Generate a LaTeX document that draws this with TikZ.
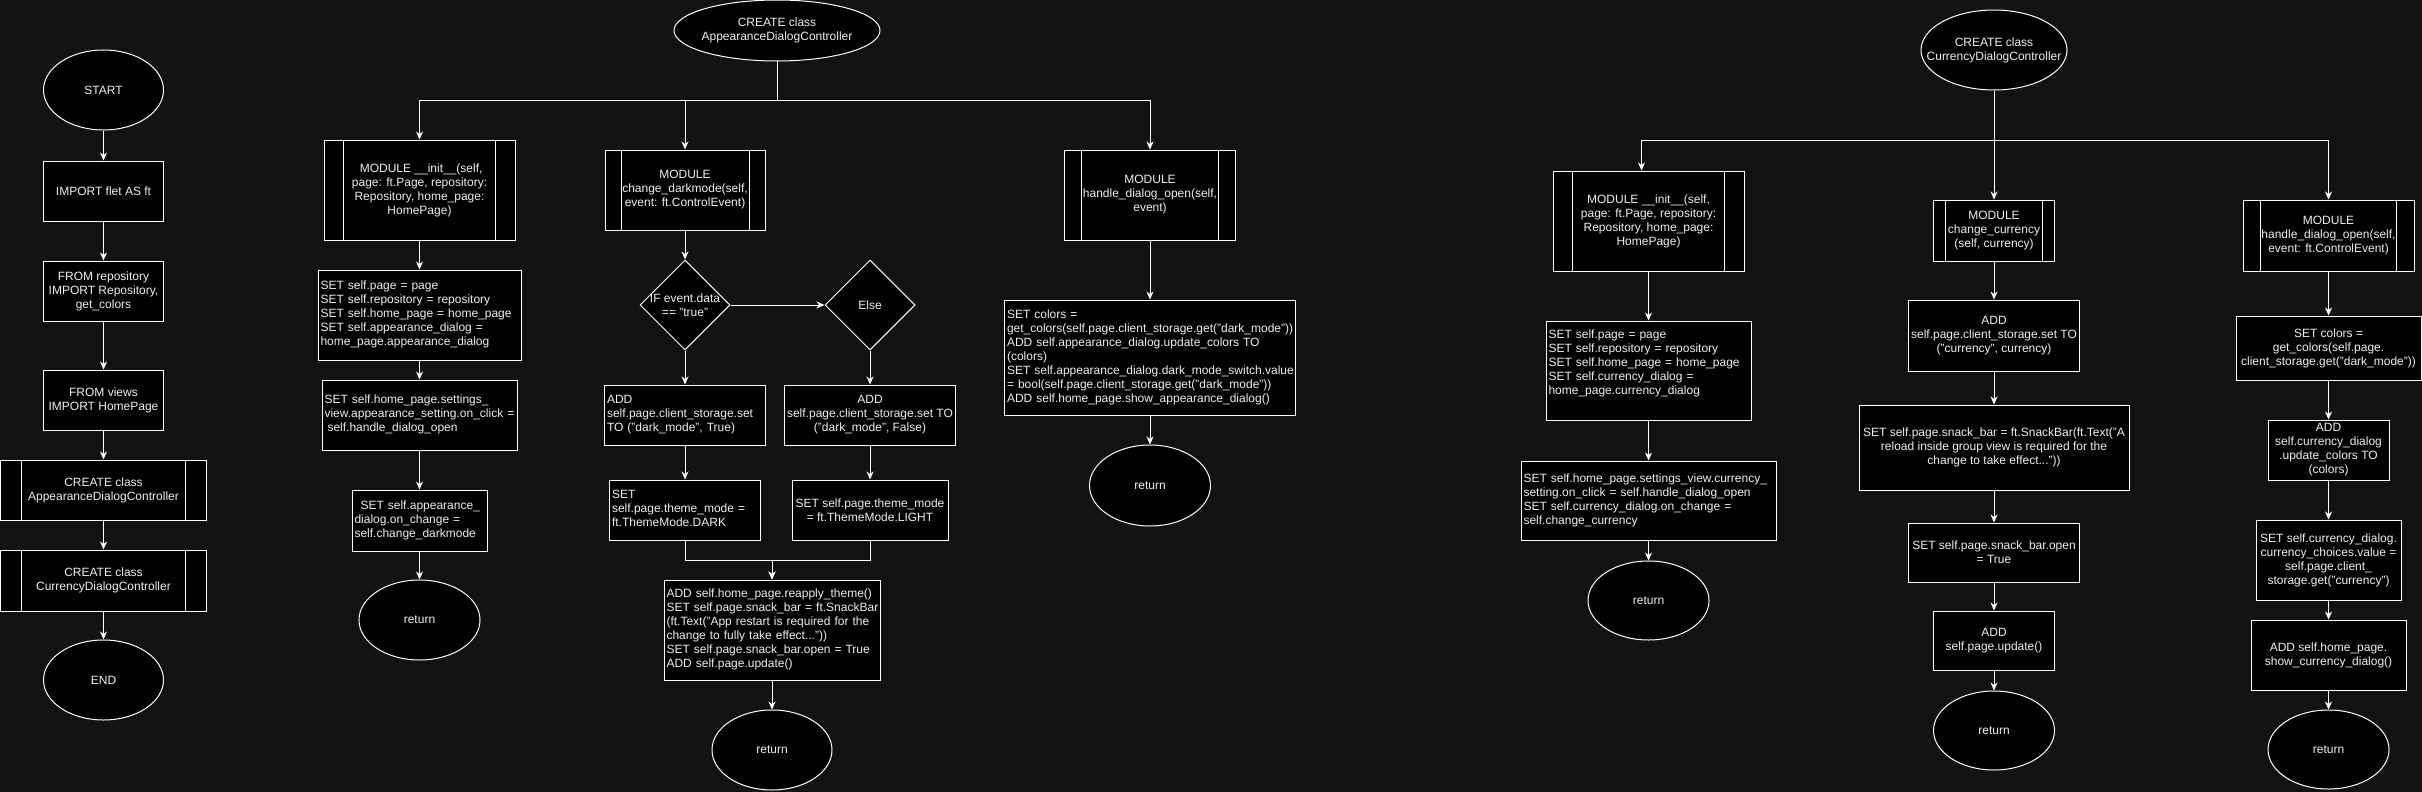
\documentclass[tikz,border=0pt]{standalone}
\usepackage{fontspec}
\setmainfont{Liberation Sans}
\usetikzlibrary{shapes.geometric,arrows.meta,calc}
\definecolor{bg}{RGB}{18,18,18}
\definecolor{txt}{RGB}{240,240,240}
\newcommand\fnt{\fontsize{12}{14}\selectfont}
\newcommand\LL[1]{\begin{tabular}{@{}l@{}}#1\end{tabular}}
\begin{document}
\begin{tikzpicture}[x=1pt,y=-1pt,
 nbase/.style={draw=white, fill=black, text=txt, font=\fnt, line width=1pt},
 lbox/.style 2 args={nbase, rectangle, inner xsep=2.5pt, inner ysep=0pt, text width=#1, minimum height=#2, align=left},
 cbox/.style 2 args={nbase, rectangle, inner sep=0pt, minimum width=#1, minimum height=#2, align=center},
 procbox/.style 2 args={cbox={#1}{#2}, path picture={
   \draw[white, line width=1pt]
   ($(path picture bounding box.north west)!0.1!(path picture bounding box.north east)$) --
   ($(path picture bounding box.south west)!0.1!(path picture bounding box.south east)$)
   ($(path picture bounding box.north west)!0.9!(path picture bounding box.north east)$) --
   ($(path picture bounding box.south west)!0.9!(path picture bounding box.south east)$);}},
 termbox/.style 2 args={nbase, ellipse, inner xsep=-25pt, inner ysep=-6pt, minimum width=#1, minimum height=#2, align=center},
 decbox/.style={nbase, diamond, inner sep=0pt, minimum width=90pt, minimum height=90pt},
 lbltxt/.style={text=txt, font=\fnt, align=center, inner sep=0pt},
 arrw/.style={draw=white, line width=1pt, -{Stealth[length=8pt,width=7pt,inset=2.5pt]}}
]
\fill[bg] (0,0) rectangle (2422,792);
\useasboundingbox (0,0) rectangle (2422,792);

% ---------- main program ----------
\node[termbox={120pt}{80pt}] (start) at (103.5,90) {START};
\node[cbox={120pt}{60pt}] (imp) at (103.5,191) {IMPORT flet AS ft};
\node[cbox={120pt}{60pt}] (frrep) at (103.5,291) {FROM repository\\IMPORT Repository,\\get\_colors};
\node[cbox={120pt}{60pt}] (frviews) at (103.5,400) {FROM views\\IMPORT HomePage};
\node[procbox={206pt}{60pt}] (crapp) at (103.5,490) {CREATE class\\AppearanceDialogController};
\node[procbox={206pt}{61pt}] (crcur) at (103.5,580.5) {CREATE class\\CurrencyDialogController};
\node[termbox={120pt}{80pt}] (endn) at (103.5,680) {END};

% ---------- AppearanceDialogController ----------
\node[termbox={206pt}{61pt}] (appc) at (777,30.5) {CREATE class\\AppearanceDialogController};
\coordinate (abr) at (777,100);

\node[procbox={191pt}{100pt}] (ainit) at (419.5,190) {\ MODULE \_\_init\_\_(self,\\page: ft.Page, repository:\\Repository, home\_page:\\HomePage)};
\node[lbox={198pt}{90pt}] (aset) at (419.5,315) {\LL{SET self.page = page\\SET self.repository = repository\\SET self.home\_page = home\_page\\SET self.appearance\_dialog =\\home\_page.appearance\_dialog}};
\node[lbox={190pt}{70pt}] (asettings) at (419.5,415) {\LL{SET self.home\_page.settings\_\\view.appearance\_setting.on\_click =\\\hspace{3pt}self.handle\_dialog\_open}};
\node[lbox={130pt}{61pt}] (aondlg) at (419.5,520.5) {\LL{\hspace{6pt}SET self.appearance\_\\dialog.on\_change =\\self.change\_darkmode}};
\node[termbox={121pt}{80pt}] (aret) at (419.5,620) {return};

\node[procbox={160pt}{80pt}] (acdm) at (685,190) {MODULE\\change\_darkmode(self,\\event: ft.ControlEvent)};
\node[decbox, label={[lbltxt]center:{IF event.data\\== "true"}}] (aif) at (685,305) {};
\node[decbox, label={[lbltxt]center:{Else}}] (aelse) at (870,305) {};
\node[lbox={156pt}{60pt}] (atrue) at (685,415) {\LL{ADD\\self.page.client\_storage.set\\TO ("dark\_mode", True)}};
\node[cbox={171pt}{60pt}] (afalse) at (870,415) {ADD\\self.page.client\_storage.set TO\\("dark\_mode", False)};
\node[lbox={146pt}{60pt}] (adark) at (685,510) {\LL{SET\\self.page.theme\_mode =\\ft.ThemeMode.DARK}};
\node[cbox={156pt}{60pt}] (alight) at (870,510) {SET self.page.theme\_mode\\= ft.ThemeMode.LIGHT};
\coordinate (amrg) at (772,560);
\node[lbox={211pt}{100pt}] (areapply) at (772,630) {\LL{ADD self.home\_page.reapply\_theme()\\SET self.page.snack\_bar = ft.SnackBar\\(ft.Text("App restart is required for the\\change to fully take effect..."))\\SET self.page.snack\_bar.open = True\\ADD self.page.update()}};
\node[termbox={120pt}{80pt}] (aret2) at (772,750) {return};

\node[procbox={171pt}{90pt}] (ahandle) at (1150,195) {MODULE\\handle\_dialog\_open(self,\\event)};
\node[lbox={286pt}{115pt}] (acolors) at (1150,357.5) {\LL{SET colors =\\get\_colors(self.page.client\_storage.get("dark\_mode"))\\ADD self.appearance\_dialog.update\_colors TO\\(colors)\\SET self.appearance\_dialog.dark\_mode\_switch.value\\= bool(self.page.client\_storage.get("dark\_mode"))\\ADD self.home\_page.show\_appearance\_dialog()}};
\node[termbox={121pt}{81pt}] (aret3) at (1150,485.5) {return};

% ---------- CurrencyDialogController ----------
\node[termbox={146pt}{80pt}] (cc) at (1994,50) {CREATE class\\CurrencyDialogController};
\coordinate (cbr) at (1994,140);

\node[procbox={191pt}{100pt}] (cinit) at (1648.5,221) {MODULE \_\_init\_\_(self,\\page: ft.Page, repository:\\Repository, home\_page:\\HomePage)};
\node[lbox={200pt}{99pt}] (cset) at (1648.5,370.5) {\LL{SET self.page = page\\SET self.repository = repository\\SET self.home\_page = home\_page\\SET self.currency\_dialog =\\home\_page.currency\_dialog\\\mbox{}}};
\node[lbox={250pt}{79pt}] (csettings) at (1648.5,500.5) {\LL{SET self.home\_page.settings\_view.currency\_\\setting.on\_click = self.handle\_dialog\_open\\SET self.currency\_dialog.on\_change =\\self.change\_currency}};
\node[termbox={121pt}{79pt}] (cret) at (1648.5,600.5) {return};

\node[procbox={121pt}{61pt}] (ccur) at (1994,230.5) {MODULE\\change\_currency\\(self, currency)};
\node[cbox={171pt}{71pt}] (cadd) at (1994,335.5) {ADD\\self.page.client\_storage.set TO\\("currency", currency)};
\node[cbox={270pt}{85pt}] (csnack) at (1994,447.5) {SET self.page.snack\_bar = ft.SnackBar(ft.Text("A\\reload inside group view is required for the\\change to take effect..."))};
\node[cbox={171pt}{59pt}] (copen) at (1994,552.5) {SET self.page.snack\_bar.open\\= True};
\node[cbox={121pt}{59pt}] (cupd) at (1994,640.5) {ADD\\self.page.update()};
\node[termbox={121pt}{79pt}] (cret2) at (1994,730.5) {return};

\node[procbox={171pt}{71pt}] (chandle) at (2328.5,235.5) {MODULE\\handle\_dialog\_open(self,\\event: ft.ControlEvent)};
\node[cbox={185pt}{64pt}] (ccolors) at (2328.5,348) {SET colors =\\get\_colors(self.page.\\client\_storage.get("dark\_mode"))};
\node[cbox={121pt}{60pt}] (caddc) at (2328.5,450) {ADD\\self.currency\_dialog\\.update\_colors TO\\(colors)};
\node[cbox={145pt}{80pt}] (cchoices) at (2328.5,560) {SET self.currency\_dialog.\\currency\_choices.value =\\self.page.client\_\\storage.get("currency")};
\node[cbox={155pt}{70pt}] (cshow) at (2328.5,655) {ADD self.home\_page.\\show\_currency\_dialog()};
\node[termbox={121pt}{79pt}] (cret3) at (2328.5,749.5) {return};

% ---------- connectors ----------
\draw[arrw] (start) -- (imp);
\draw[arrw] (imp) -- (frrep);
\draw[arrw] (frrep) -- (frviews);
\draw[arrw] (frviews) -- (crapp);
\draw[arrw] (crapp) -- (crcur);
\draw[arrw] (crcur) -- (endn);

\draw[arrw] (appc.south) -- (abr) -| (ainit.north);
\draw[arrw] (appc.south) -- (abr) -| (acdm.north);
\draw[arrw] (appc.south) -- (abr) -| (ahandle.north);
\draw[arrw] (ainit) -- (aset);
\draw[arrw] (aset) -- (asettings);
\draw[arrw] (asettings) -- (aondlg);
\draw[arrw] (aondlg) -- (aret);
\draw[arrw] (acdm) -- (aif);
\draw[arrw] (aif.east) -- (aelse.west);
\draw[arrw] (aif.south) -- (atrue.north);
\draw[arrw] (aelse.south) -- (afalse.north);
\draw[arrw] (atrue) -- (adark);
\draw[arrw] (afalse) -- (alight);
\draw[arrw] (adark.south) |- (amrg) -- (areapply.north);
\draw[arrw] (alight.south) |- (amrg) -- (areapply.north);
\draw[arrw] (areapply) -- (aret2);
\draw[arrw] (ahandle) -- (acolors);
\draw[arrw] (acolors) -- (aret3);

\draw[arrw] (cc.south) -- (cbr) -| ([xshift=-7pt]cinit.north);
\draw[arrw] (cc.south) -- (ccur.north);
\draw[arrw] (cc.south) -- (cbr) -| (chandle.north);
\draw[arrw] (cinit) -- (cset);
\draw[arrw] (cset) -- (csettings);
\draw[arrw] (csettings) -- (cret);
\draw[arrw] (ccur) -- (cadd);
\draw[arrw] (cadd) -- (csnack);
\draw[arrw] (csnack) -- (copen);
\draw[arrw] (copen) -- (cupd);
\draw[arrw] (cupd) -- (cret2);
\draw[arrw] (chandle) -- (ccolors);
\draw[arrw] (ccolors) -- (caddc);
\draw[arrw] (caddc) -- (cchoices);
\draw[arrw] (cchoices) -- (cshow);
\draw[arrw] (cshow) -- (cret3);
\end{tikzpicture}
\end{document}
